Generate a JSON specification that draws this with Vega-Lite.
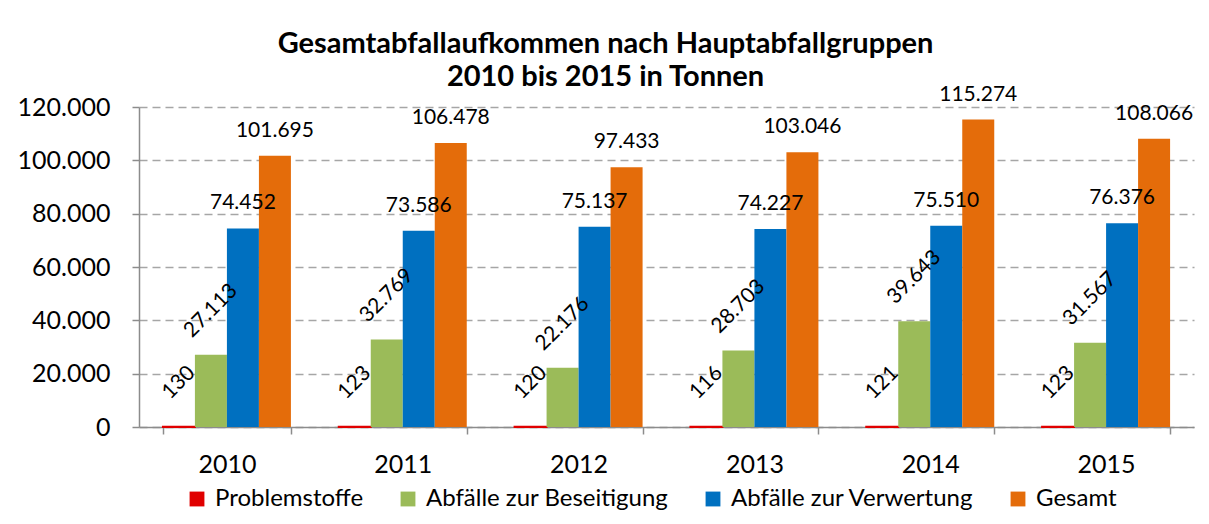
{
  "$schema": "https://vega.github.io/schema/vega-lite/v6.json",
  "width": 1055,
  "height": 320,
  "autosize": {"type": "none"},
  "padding": {"left": 139, "top": 107, "right": 15, "bottom": 97},
  "background": "white",
  "title": {
    "text": ["Gesamtabfallaufkommen nach Hauptabfallgruppen", "2010 bis 2015 in Tonnen"],
    "font": "Lato",
    "fontSize": 29,
    "fontWeight": "bold",
    "color": "#000000",
    "anchor": "middle",
    "frame": "bounds",
    "lineHeight": 33,
    "offset": -8
  },
  "data": {
    "values": [
      {"Jahr": "2010", "Serie": "Problemstoffe", "Tonnen": 130},
      {"Jahr": "2010", "Serie": "Abfälle zur Beseitigung", "Tonnen": 27113},
      {"Jahr": "2010", "Serie": "Abfälle zur Verwertung", "Tonnen": 74452},
      {"Jahr": "2010", "Serie": "Gesamt", "Tonnen": 101695},
      {"Jahr": "2011", "Serie": "Problemstoffe", "Tonnen": 123},
      {"Jahr": "2011", "Serie": "Abfälle zur Beseitigung", "Tonnen": 32769},
      {"Jahr": "2011", "Serie": "Abfälle zur Verwertung", "Tonnen": 73586},
      {"Jahr": "2011", "Serie": "Gesamt", "Tonnen": 106478},
      {"Jahr": "2012", "Serie": "Problemstoffe", "Tonnen": 120},
      {"Jahr": "2012", "Serie": "Abfälle zur Beseitigung", "Tonnen": 22176},
      {"Jahr": "2012", "Serie": "Abfälle zur Verwertung", "Tonnen": 75137},
      {"Jahr": "2012", "Serie": "Gesamt", "Tonnen": 97433},
      {"Jahr": "2013", "Serie": "Problemstoffe", "Tonnen": 116},
      {"Jahr": "2013", "Serie": "Abfälle zur Beseitigung", "Tonnen": 28703},
      {"Jahr": "2013", "Serie": "Abfälle zur Verwertung", "Tonnen": 74227},
      {"Jahr": "2013", "Serie": "Gesamt", "Tonnen": 103046},
      {"Jahr": "2014", "Serie": "Problemstoffe", "Tonnen": 121},
      {"Jahr": "2014", "Serie": "Abfälle zur Beseitigung", "Tonnen": 39643},
      {"Jahr": "2014", "Serie": "Abfälle zur Verwertung", "Tonnen": 75510},
      {"Jahr": "2014", "Serie": "Gesamt", "Tonnen": 115274},
      {"Jahr": "2015", "Serie": "Problemstoffe", "Tonnen": 123},
      {"Jahr": "2015", "Serie": "Abfälle zur Beseitigung", "Tonnen": 31567},
      {"Jahr": "2015", "Serie": "Abfälle zur Verwertung", "Tonnen": 76376},
      {"Jahr": "2015", "Serie": "Gesamt", "Tonnen": 108066}
    ]
  },
  "encoding": {
    "x": {
      "field": "Jahr",
      "type": "nominal",
      "scale": {"paddingInner": 0.272, "paddingOuter": 0.136},
      "axis": {
        "title": null,
        "labelAngle": 0,
        "labelFont": "Lato",
        "labelFontSize": 25,
        "labelColor": "#000000",
        "labelPadding": 18,
        "tickBand": "extent",
        "tickSize": 7,
        "tickColor": "#8C8C8C",
        "tickWidth": 1.5,
        "domainColor": "#8C8C8C",
        "domainWidth": 1.5,
        "grid": false
      }
    },
    "xOffset": {
      "field": "Serie",
      "type": "nominal",
      "sort": ["Problemstoffe", "Abfälle zur Beseitigung", "Abfälle zur Verwertung", "Gesamt"],
      "scale": {"paddingInner": 0, "paddingOuter": 0}
    },
    "y": {
      "field": "Tonnen",
      "type": "quantitative",
      "scale": {"domain": [0, 120000], "nice": false},
      "axis": {
        "title": null,
        "values": [0, 20000, 40000, 60000, 80000, 100000, 120000],
        "format": ",d",
        "labelFont": "Lato",
        "labelFontSize": 25,
        "labelColor": "#000000",
        "labelPadding": 22,
        "tickSize": 7,
        "tickColor": "#8C8C8C",
        "tickWidth": 1.5,
        "domainColor": "#8C8C8C",
        "domainWidth": 1.5,
        "gridColor": "#A6A6A6",
        "gridDash": [8, 5],
        "gridWidth": 1.5
      }
    }
  },
  "layer": [
    {
      "mark": {"type": "bar"},
      "encoding": {
        "color": {
          "field": "Serie",
          "type": "nominal",
          "scale": {
            "domain": ["Problemstoffe", "Abfälle zur Beseitigung", "Abfälle zur Verwertung", "Gesamt"],
            "range": ["#E00000", "#9BBB59", "#0070C0", "#E46C0A"]
          },
          "legend": {
            "title": null,
            "orient": "none",
            "direction": "horizontal",
            "legendX": 46,
            "legendY": 380,
            "symbolType": "square",
            "symbolSize": 220,
            "symbolStrokeWidth": 0,
            "labelFont": "Lato",
            "labelFontSize": 24,
            "labelColor": "#000000",
            "labelOffset": 6,
            "columnPadding": 32,
            "labelLimit": 400
          }
        },
        "stroke": {
          "condition": {"test": "datum.Serie === 'Problemstoffe'", "value": "#E00000"},
          "value": null
        },
        "strokeWidth": {
          "condition": {"test": "datum.Serie === 'Problemstoffe'", "value": 2},
          "value": 0
        }
      }
    },
    {
      "transform": [{"filter": "datum.Serie === 'Problemstoffe' || datum.Serie === 'Abfälle zur Beseitigung'"}],
      "mark": {
        "type": "text",
        "angle": 315,
        "align": "center",
        "baseline": "middle",
        "dx": 31,
        "dy": -31,
        "font": "Lato",
        "fontSize": 21,
        "color": "#000000"
      },
      "encoding": {
        "text": {"field": "Tonnen", "type": "quantitative", "format": ",d"}
      }
    },
    {
      "transform": [{"filter": "datum.Serie === 'Abfälle zur Verwertung' || datum.Serie === 'Gesamt'"}],
      "mark": {
        "type": "text",
        "align": "center",
        "baseline": "bottom",
        "dy": -15,
        "font": "Lato",
        "fontSize": 21,
        "color": "#000000"
      },
      "encoding": {
        "text": {"field": "Tonnen", "type": "quantitative", "format": ",d"}
      }
    }
  ],
  "config": {
    "locale": {
      "number": {"decimal": ",", "thousands": ".", "grouping": [3], "currency": ["", " €"]}
    },
    "view": {"stroke": null}
  }
}
